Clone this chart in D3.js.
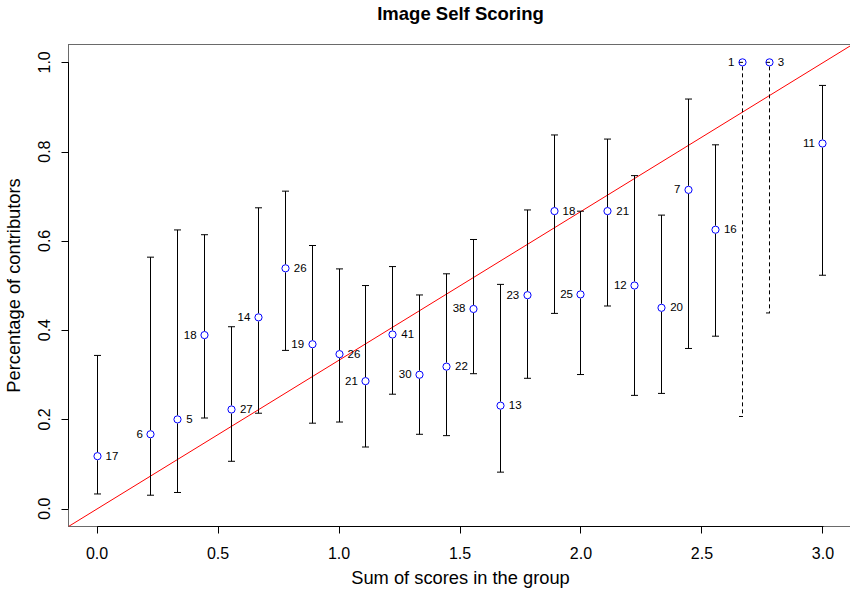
<!DOCTYPE html>
<html>
<head>
<meta charset="utf-8">
<script src="https://cdn.jsdelivr.net/npm/d3@7"></script>
<style>
  html, body { margin: 0; padding: 0; background: #fff; }
  svg { display: block; font-family: "Liberation Sans", Arial, Helvetica, sans-serif; }
</style>
</head>
<body>
<svg id="chart" width="850" height="590"></svg>
<script>
// Sum of scores per group (x) and share of contributors (y)
const scoreSum = [0, 0.2222, 0.3333, 0.4444, 0.5556, 0.6667, 0.7778, 0.8889, 1.0, 1.1111,
  1.2222, 1.3333, 1.4444, 1.5556, 1.6667, 1.7778, 1.8889, 2.0, 2.1111, 2.2222,
  2.3333, 2.4444, 2.5556, 2.6667, 2.7778, 3.0];
const share = [0.1176, 0.1667, 0.2, 0.3889, 0.2222, 0.4286, 0.5385, 0.3684, 0.3462, 0.2857,
  0.3902, 0.3, 0.3182, 0.4474, 0.2308, 0.4783, 0.6667, 0.48, 0.6667, 0.5,
  0.45, 0.7143, 0.625, 1.0, 1.0, 0.8182];
const lower = [0.0329, 0.0301, 0.0362, 0.2031, 0.1061, 0.2138, 0.3546, 0.1915, 0.1941, 0.1381,
  0.2564, 0.1666, 0.1636, 0.3024, 0.0818, 0.2921, 0.4375, 0.3005, 0.4541, 0.2538,
  0.2582, 0.3589, 0.3864, 0.2065, 0.4385, 0.5230];
const upper = [0.3433, 0.5635, 0.6245, 0.6138, 0.4076, 0.6741, 0.7114, 0.5896, 0.5372, 0.4999,
  0.5424, 0.4788, 0.5262, 0.6031, 0.5025, 0.6693, 0.8373, 0.6665, 0.8281, 0.7462,
  0.6577, 0.9178, 0.8152, 1.0, 1.0, 0.9483];
// Number of contributors in each group
const groupSize = [17, 6, 5, 18, 27, 14, 26, 19, 26, 21, 41, 30, 22, 38, 13, 23, 18, 25, 21, 12,
  20, 7, 16, 1, 3, 11];
const xTicks = [0, 0.5, 1, 1.5, 2, 2.5, 3];
const yTicks = [0, 0.2, 0.4, 0.6, 0.8, 1.0];

const svg = d3.select("#chart");
const plotLeft = 68.5, plotRight = 852.5, plotTop = 44.5, plotBottom = 526.5;

const x = d3.scaleLinear().domain([-0.12, 3.12]).range([plotLeft, plotRight]);
const y = d3.scaleLinear().domain([-0.04, 1.04]).range([plotBottom, plotTop]);

// Title and axis titles
svg.append("text").attr("x", (plotLeft + plotRight) / 2).attr("y", 20)
  .attr("text-anchor", "middle").attr("font-weight", "bold").attr("font-size", 18.5)
  .attr("fill", "#000").text("Image Self Scoring");
svg.append("text").attr("x", (plotLeft + plotRight) / 2).attr("y", 584)
  .attr("text-anchor", "middle").attr("font-size", 18.3).attr("fill", "#000")
  .text("Sum of scores in the group");
svg.append("text")
  .attr("transform", `translate(20,${(plotTop + plotBottom) / 2}) rotate(-90)`)
  .attr("text-anchor", "middle").attr("font-size", 18.3).attr("fill", "#000")
  .text("Percentage of contributors");

// Plot frame
svg.append("rect").attr("x", plotLeft).attr("y", plotTop)
  .attr("width", plotRight - plotLeft).attr("height", plotBottom - plotTop)
  .attr("fill", "none").attr("stroke", "#6a6a6a").attr("stroke-width", 1);

// x axis
const gx = svg.append("g");
gx.append("line").attr("x1", x(0)).attr("x2", x(3)).attr("y1", plotBottom).attr("y2", plotBottom)
  .attr("stroke", "#000");
gx.selectAll("line.tick").data(xTicks).join("line").attr("class", "tick")
  .attr("x1", d => Math.round(x(d)) - 0.5).attr("x2", d => Math.round(x(d)) - 0.5)
  .attr("y1", plotBottom).attr("y2", plotBottom + 7).attr("stroke", "#000");
gx.selectAll("text").data(xTicks).join("text")
  .attr("x", d => x(d) - 0.5).attr("y", 559).attr("text-anchor", "middle")
  .attr("font-size", 16).attr("fill", "#000").text(d3.format(".1f"));

// y axis
const gy = svg.append("g");
gy.append("line").attr("x1", plotLeft).attr("x2", plotLeft).attr("y1", y(0)).attr("y2", y(1))
  .attr("stroke", "#000");
gy.selectAll("line.tick").data(yTicks).join("line").attr("class", "tick")
  .attr("x1", plotLeft - 7).attr("x2", plotLeft)
  .attr("y1", d => Math.round(y(d)) + 0.5).attr("y2", d => Math.round(y(d)) + 0.5)
  .attr("stroke", "#000");
gy.selectAll("text").data(yTicks).join("text")
  .attr("transform", d => `translate(50,${y(d)}) rotate(-90)`)
  .attr("text-anchor", "middle").attr("font-size", 16).attr("fill", "#000")
  .text(d3.format(".1f"));

// Reference line y = x / 3, clipped to the plot region
svg.append("clipPath").attr("id", "plotClip").append("rect")
  .attr("x", plotLeft).attr("y", plotTop)
  .attr("width", plotRight - plotLeft).attr("height", plotBottom - plotTop);
svg.append("line").attr("clip-path", "url(#plotClip)")
  .attr("x1", x(-0.12)).attr("y1", y(-0.12 / 3))
  .attr("x2", x(3.12)).attr("y2", y(3.12 / 3))
  .attr("stroke", "#ff0000").attr("stroke-width", 1);

// Confidence bars, leaving a gap around each point
const rows = scoreSum.map((s, i) => ({
  s, p: share[i], lo: lower[i], hi: upper[i], n: groupSize[i], i
}));
const gap = 4, cap = 3.5;
const bars = svg.append("g").attr("fill", "none").attr("stroke", "#000").attr("stroke-width", 1);
rows.forEach(r => {
  const cx = Math.round(x(r.s)) - 0.5;
  const cy = y(r.p), yl = y(r.lo), yh = y(r.hi);
  const dash = r.n < 5 ? "4,3" : null;
  let d = "";
  if (yl > cy + gap) d += `M${cx},${cy + gap}V${yl}`;
  if (yh < cy - gap) d += `M${cx},${cy - gap}V${yh}`;
  d += `M${cx - cap},${yl}H${cx + cap}`;
  d += `M${cx - cap},${yh}H${cx + cap}`;
  bars.append("path").attr("d", d).attr("stroke-dasharray", dash);
});

// Points
svg.append("g").selectAll("circle").data(rows).join("circle")
  .attr("cx", d => Math.round(x(d.s)) - 0.5).attr("cy", d => y(d.p)).attr("r", 3.6)
  .attr("fill", "none").attr("stroke", "#0000ff").attr("stroke-width", 1);

// Group size labels, alternating right / left of the points
svg.append("g").selectAll("text").data(rows).join("text")
  .attr("x", d => x(d.s) + (d.i % 2 === 0 ? 8 : -8.5))
  .attr("y", d => y(d.p) + 3.5)
  .attr("text-anchor", d => d.i % 2 === 0 ? "start" : "end")
  .attr("font-size", 11.5).attr("fill", "#000")
  .text(d => d.n);
</script>
</body>
</html>
